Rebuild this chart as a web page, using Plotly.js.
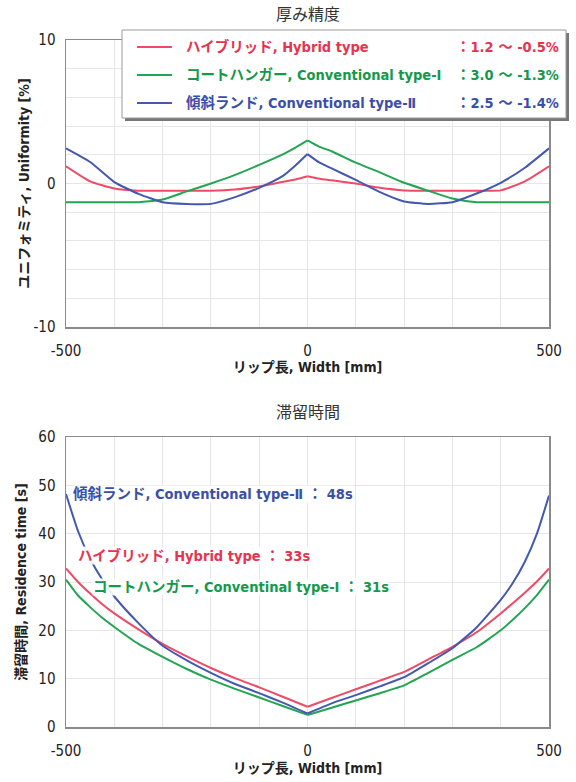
<!DOCTYPE html>
<html><head><meta charset="utf-8">
<script src="https://cdn.plot.ly/plotly-3.0.1.min.js"></script>
<style>body{margin:0;background:#fff}#chart{width:576px;height:782px}</style>
</head><body><div id="chart"></div>
<script>
// ---- Top chart: 厚み精度 (Uniformity %) ----
const topX = [-500,-450,-400,-350,-300,-250,-200,-150,-100,-50,-25,0,25,50,100,150,200,250,300,350,400,450,500];
const topHybrid = [1.2,0.15,-0.35,-0.5,-0.5,-0.5,-0.5,-0.42,-0.2,0.12,0.28,0.5,0.33,0.22,0.0,-0.3,-0.48,-0.5,-0.5,-0.5,-0.48,0.15,1.2];
const topTypeI  = [-1.3,-1.3,-1.3,-1.3,-1.12,-0.55,0.0,0.6,1.3,2.05,2.5,3.0,2.55,2.25,1.45,0.77,0.05,-0.5,-1.05,-1.3,-1.3,-1.3,-1.3];
const topTypeII = [2.45,1.5,0.1,-0.72,-1.3,-1.42,-1.42,-0.95,-0.3,0.55,1.25,2.05,1.45,1.05,0.25,-0.6,-1.25,-1.42,-1.3,-0.7,0.05,1.1,2.45];

// ---- Bottom chart: 滞留時間 (Residence time s) ----
const botX = [-500,-475,-450,-425,-400,-350,-300,-250,-200,-150,-100,-50,0,50,100,150,200,250,300,350,400,425,450,475,500];
const botHybrid = [32.8,30.0,27.6,25.4,23.5,20.2,17.2,14.6,12.2,10.1,8.2,6.2,4.2,6.0,7.8,9.6,11.4,14.0,16.6,19.6,23.5,25.6,27.8,30.1,32.8];
const botTypeI  = [30.5,27.2,24.8,22.6,20.7,17.2,14.5,12.0,9.8,7.9,6.1,4.3,2.5,4.0,5.5,7.0,8.6,11.2,13.9,16.5,20.0,22.2,24.6,27.3,30.5];
const botTypeII = [48.2,40.5,34.8,30.5,27.0,21.5,16.8,13.8,11.2,8.9,7.0,5.0,2.8,4.9,6.6,8.4,10.3,13.2,16.3,20.6,26.3,29.8,34.2,40.0,47.9];

const names = ['ハイブリッド, Hybrid type','コートハンガー, Conventional type-Ⅰ','傾斜ランド, Conventional type-Ⅱ'];
const ranges = ['：1.2 ～ -0.5%','：3.0 ～ -1.3%','：2.5 ～ -1.4%'];
const botLabels = ['ハイブリッド, Hybrid type ： 33s','コートハンガー, Conventinal type-Ⅰ ： 31s','傾斜ランド, Conventional type-Ⅱ ： 48s'];

const lineCol = ['#EF4A66','#22A552','#4558B0'];
const textCol = ['#E8334F','#14994A','#3A4FA6'];

const FONT = "'DejaVu Sans Condensed','Noto Sans CJK JP',sans-serif";

// paper coordinate helpers (plot area 66..549 x, 40..727 y)
const L=66,R=549,T=40,B=727;
const xp = px => (px-L)/(R-L);
const yp = py => 1-(py-T)/(B-T);

// split each series at x = 0 so the centre keeps its sharp kink while each half is smoothed
function halves(xs, ys){
  const i0 = xs.indexOf(0);
  return [[xs.slice(0,i0+1), ys.slice(0,i0+1)], [xs.slice(i0), ys.slice(i0)]];
}
const traces = [];
function addSeries(xs, ys, col, xa, ya, sm){
  halves(xs, ys).forEach(([hx,hy])=>traces.push({x:hx,y:hy,type:'scatter',mode:'lines',
    line:{color:col,width:2,shape:'spline',smoothing:sm},xaxis:xa,yaxis:ya,showlegend:false,hoverinfo:'skip'}));
}
[topHybrid, topTypeI, topTypeII].forEach((ys,i)=>addSeries(topX, ys, lineCol[i], 'x', 'y', 0.5));
[botHybrid, botTypeI, botTypeII].forEach((ys,i)=>addSeries(botX, ys, lineCol[i], 'x2', 'y2', 0.5));

const xTicks = [-500,-400,-300,-200,-100,0,100,200,300,400,500];
const xText = xTicks.map(v => (v===-500||v===0||v===500)? String(v):'');
const yTopTicks = [-10,-8,-6,-4,-2,0,2,4,6,8,10];
const yTopText = yTopTicks.map(v => (v%10===0)? String(v):'');

const axisCommon = {showline:true,mirror:true,linecolor:'#8a8a8a',linewidth:1.5,gridcolor:'#e6e6e6',gridwidth:1,zeroline:false,
  tickfont:{family:FONT,size:15,color:'#222'},ticks:'',tickmode:'array'};

const titleFont = {family:"'Noto Sans CJK JP',sans-serif",size:16,color:'#333'};
const axTitleFont = {family:FONT,size:14,color:'#222',weight:'bold'};

const layout = {
  width:576,height:782,
  margin:{l:L,r:576-R,t:T,b:782-B},
  paper_bgcolor:'#fff',plot_bgcolor:'#fff',
  showlegend:false,
  xaxis:Object.assign({},axisCommon,{domain:[0,1],range:[-500,500],tickvals:xTicks,ticktext:xText,anchor:'y',ticklabelstandoff:9,
    title:{text:'リップ長, Width [mm]',font:axTitleFont,standoff:2}}),
  yaxis:Object.assign({},axisCommon,{domain:[yp(327),1],range:[-10,10],tickvals:yTopTicks,ticktext:yTopText,anchor:'x',ticklabelstandoff:6,
    title:{text:'ユニフォミティ, Uniformity [%]',font:axTitleFont,standoff:0}}),
  xaxis2:Object.assign({},axisCommon,{domain:[0,1],range:[-500,500],tickvals:xTicks,ticktext:xText,anchor:'y2',ticklabelstandoff:9,
    title:{text:'リップ長, Width [mm]',font:axTitleFont,standoff:4}}),
  yaxis2:Object.assign({},axisCommon,{domain:[0,yp(437)],range:[0,60],dtick:10,tickmode:'linear',anchor:'x2',ticklabelstandoff:6,
    title:{text:'滞留時間, Residence time [s]',font:axTitleFont,standoff:8}}),
  shapes:[],
  annotations:[]
};

// titles of each panel
layout.annotations.push({text:'厚み精度',xref:'paper',yref:'paper',x:xp(308),y:yp(13),showarrow:false,font:titleFont,xanchor:'center',yanchor:'middle'});
layout.annotations.push({text:'滞留時間',xref:'paper',yref:'paper',x:xp(308),y:yp(411),showarrow:false,font:titleFont,xanchor:'center',yanchor:'middle'});

// legend box (custom, to align the range column)
layout.shapes.push({type:'rect',xref:'paper',yref:'paper',x0:xp(125),x1:xp(569),y0:yp(33),y1:yp(121),fillcolor:'#777',line:{width:0},layer:'above'});
layout.shapes.push({type:'rect',xref:'paper',yref:'paper',x0:xp(122),x1:xp(566),y0:yp(30),y1:yp(118),fillcolor:'#fff',line:{color:'#9a9a9a',width:1},layer:'above'});
const rowsY = [47,75,103];
rowsY.forEach((ry,i)=>{
  layout.shapes.push({type:'line',xref:'paper',yref:'paper',x0:xp(137),x1:xp(172),y0:yp(ry),y1:yp(ry),line:{color:lineCol[i],width:2},layer:'above'});
  layout.annotations.push({text:names[i],xref:'paper',yref:'paper',x:xp(184),y:yp(ry),xanchor:'left',yanchor:'middle',showarrow:false,
    font:{family:FONT,size:14.5,color:textCol[i],weight:'bold'}});
  layout.annotations.push({text:ranges[i],xref:'paper',yref:'paper',x:xp(561),y:yp(ry),xanchor:'right',yanchor:'middle',showarrow:false,
    font:{family:FONT,size:14.5,color:textCol[i],weight:'bold'}});
});

// bottom chart labels
const botPos = [[77,555],[92,587],[72,494]];
botLabels.forEach((t,i)=>{
  layout.annotations.push({text:t,xref:'paper',yref:'paper',x:xp(botPos[i][0]),y:yp(botPos[i][1]),xanchor:'left',yanchor:'middle',showarrow:false,
    bgcolor:'rgba(255,255,255,0.9)',borderpad:0,font:{family:FONT,size:14.5,color:textCol[i],weight:'bold'}});
});

Plotly.newPlot('chart',traces,layout,{staticPlot:true,displayModeBar:false});
</script></body></html>
